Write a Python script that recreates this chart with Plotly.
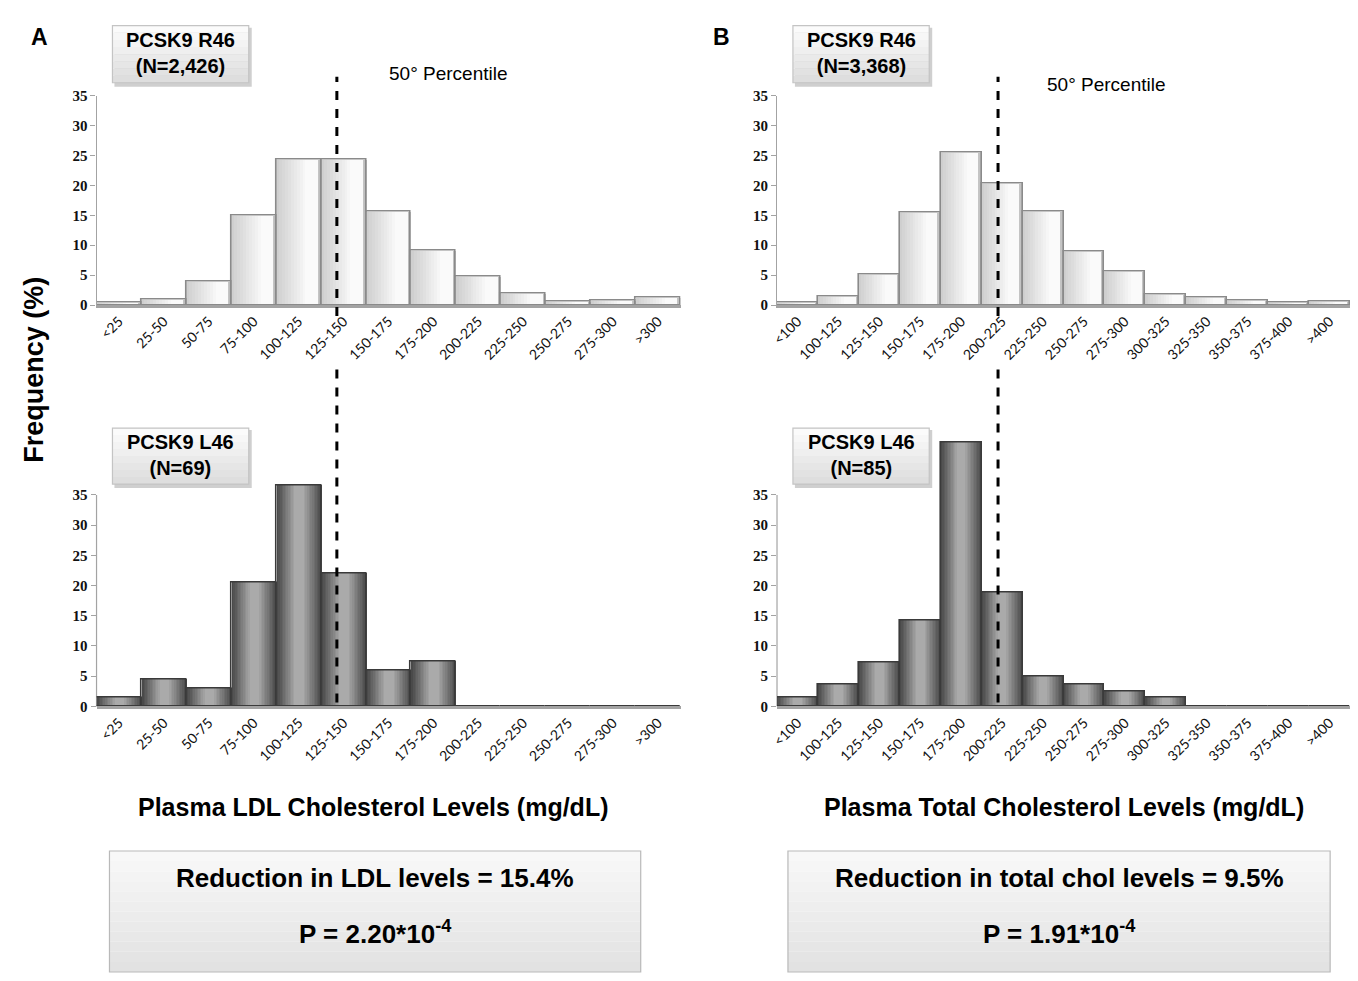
import plotly.graph_objects as go

# ---------------- data ----------------
ldl_bins = ["<25", "25-50", "50-75", "75-100", "100-125", "125-150", "150-175",
            "175-200", "200-225", "225-250", "250-275", "275-300", ">300"]
ldl_r46 = [0.4, 1.0, 4.0, 15.0, 24.3, 24.3, 15.7, 9.1, 4.8, 2.0, 0.6, 0.8, 1.3]
ldl_l46 = [1.5, 4.5, 3.0, 20.5, 36.5, 22.0, 6.0, 7.5, 0, 0, 0, 0, 0]

tc_bins = ["<100", "100-125", "125-150", "150-175", "175-200", "200-225", "225-250",
           "250-275", "275-300", "300-325", "325-350", "350-375", "375-400", ">400"]
tc_r46 = [0.4, 1.4, 5.1, 15.5, 25.4, 20.3, 15.6, 9.0, 5.6, 1.8, 1.2, 0.8, 0.5, 0.6]
tc_l46 = [1.4, 3.7, 7.3, 14.3, 43.7, 18.9, 4.9, 3.7, 2.5, 1.4, 0, 0, 0, 0]

# 50th percentile position (in bin-index units)
ldl_median_pos = 4.85
tc_median_pos = 4.90

y_ticks = [0, 5, 10, 15, 20, 25, 30, 35]

W, H = 1358, 981


def fx(px):
    return px / W


def fy(py):
    return 1 - py / H


def mix(c1, c2, t):
    a = [int(c1[i:i + 2], 16) for i in (1, 3, 5)]
    b = [int(c2[i:i + 2], 16) for i in (1, 3, 5)]
    return "#" + "".join("%02x" % round(a[k] + (b[k] - a[k]) * t) for k in range(3))


N_LAYERS = 12
# light (upper panels): darker on the left, lighter toward the right
light_layers = [(1.0, -0.5, "#c4c4c4")]
for i in range(1, N_LAYERS):
    t = i / (N_LAYERS - 1)
    w = 0.93 - 0.065 * (i - 1)
    light_layers.append((w, 0.42 - w, mix("#cbcbcb", "#fafafa", t)))
# dark (lower panels): darker edges, lighter centre
dark_layers = []
for i in range(N_LAYERS):
    t = i / (N_LAYERS - 1)
    w = 1.0 - 0.072 * i
    dark_layers.append((w, -w / 2, mix("#4a4a4a", "#aaaaaa", t)))

fig = go.Figure()


def add_bars(cats, vals, xa, ya, layers, edge):
    for i, (w, off, c) in enumerate(layers):
        fig.add_trace(go.Bar(
            x=cats, y=vals, xaxis=xa, yaxis=ya, width=w, offset=off,
            marker=dict(color=c, line=dict(color=c, width=0)),
            showlegend=False, hoverinfo="x+y" if i == 0 else "skip"))
    # outline on top of the layers
    fig.add_trace(go.Bar(
        x=cats, y=vals, xaxis=xa, yaxis=ya, width=1.0, offset=-0.5,
        marker=dict(color="rgba(0,0,0,0)", line=dict(color=edge, width=1.6)),
        showlegend=False, hoverinfo="skip"))


add_bars(ldl_bins, ldl_r46, "x", "y", light_layers, "#8a8a8a")
add_bars(ldl_bins, ldl_l46, "x2", "y2", dark_layers, "#3a3a3a")
add_bars(tc_bins, tc_r46, "x3", "y3", light_layers, "#8a8a8a")
add_bars(tc_bins, tc_l46, "x4", "y4", dark_layers, "#3a3a3a")

xA = [fx(90), fx(677)]
xB = [fx(774), fx(1350)]
y_top = [fy(302), fy(89)]
y_bot = [fy(710), fy(710 - 45 * (215 / 35))]

cat_font = dict(family="Lato, Liberation Sans, Arial", size=14, color="#111111")
ytick_font = dict(family="Liberation Serif, DejaVu Serif", size=15, color="#111111", weight="bold")


def xaxis_cfg(dom, cats, anchor):
    return dict(domain=dom, anchor=anchor, type="category", categoryorder="array",
                categoryarray=cats, range=[-0.5, len(cats) - 0.5],
                showline=True, linecolor="#a3a3a3", linewidth=2.5, ticks="",
                tickangle=-45, tickfont=cat_font, showgrid=False, zeroline=False, fixedrange=True)


def yaxis_cfg(dom, rng, anchor, showline):
    return dict(domain=dom, anchor=anchor, range=rng, tickvals=y_ticks,
                showline=showline, linecolor="#a3a3a3", linewidth=1.2,
                ticks="outside", ticklen=5, tickcolor="#a3a3a3", tickwidth=1.2,
                tickfont=ytick_font, showgrid=False, zeroline=False, fixedrange=True)


fig.update_layout(
    width=W, height=H, margin=dict(l=0, r=0, t=0, b=0),
    paper_bgcolor="white", plot_bgcolor="rgba(0,0,0,0)",
    barmode="overlay", bargap=0,
    xaxis=xaxis_cfg(xA, ldl_bins, "y"),
    yaxis=yaxis_cfg(y_top, [0, 35], "x", True),
    xaxis2=xaxis_cfg(xA, ldl_bins, "y2"),
    yaxis2=yaxis_cfg(y_bot, [0, 45], "x2", False),
    xaxis3=xaxis_cfg(xB, tc_bins, "y3"),
    yaxis3=yaxis_cfg(y_top, [0, 35], "x3", True),
    xaxis4=xaxis_cfg(xB, tc_bins, "y4"),
    yaxis4=yaxis_cfg(y_bot, [0, 45], "x4", False),
)

shapes = []
# y-axis lines for lower panels (only up to 35)
for xr, yr in (("x2 domain", "y2"), ("x4 domain", "y4")):
    shapes.append(dict(type="line", xref=xr, yref=yr, x0=0, x1=0, y0=0, y1=35,
                       line=dict(color="#a3a3a3", width=1.2), layer="below"))

# dashed 50th percentile lines
for xr, pos in (("x", ldl_median_pos), ("x3", tc_median_pos)):
    shapes.append(dict(type="line", xref=xr, yref="paper", x0=pos, x1=pos,
                       y0=fy(313), y1=fy(70), line=dict(color="black", width=3, dash="dash")))
for xr, pos in (("x2", ldl_median_pos), ("x4", tc_median_pos)):
    shapes.append(dict(type="line", xref=xr, yref="paper", x0=pos, x1=pos,
                       y0=fy(706), y1=fy(363), line=dict(color="black", width=3, dash="dash")))


def gradient_box(x0, x1, y0, y1, top_col, bot_col, border, bands=8):
    h = (y1 - y0) / bands
    for k in range(bands):
        shapes.append(dict(type="rect", xref="paper", yref="paper",
                           x0=fx(x0), x1=fx(x1), y0=fy(y0 + (k + 1) * h), y1=fy(y0 + k * h),
                           fillcolor=mix(top_col, bot_col, k / (bands - 1)),
                           line=dict(width=0), layer="below"))
    shapes.append(dict(type="rect", xref="paper", yref="paper",
                       x0=fx(x0), x1=fx(x1), y0=fy(y1), y1=fy(y0),
                       fillcolor="rgba(0,0,0,0)", line=dict(color=border, width=1.2), layer="below"))


# genotype label boxes
label_boxes = [
    (106, 243, 18, 76, "PCSK9 R46<br>(N=2,426)"),
    (790, 927, 18, 76, "PCSK9 R46<br>(N=3,368)"),
    (106, 243, 427, 484, "PCSK9 L46<br>(N=69)"),
    (790, 927, 427, 484, "PCSK9 L46<br>(N=85)"),
]
annotations = []
for x0, x1, y0, y1, txt in label_boxes:
    shapes.append(dict(type="rect", xref="paper", yref="paper",
                       x0=fx(x0 + 2), x1=fx(x1 + 3), y0=fy(y1 + 4), y1=fy(y0 + 2),
                       fillcolor="#cfcfcf", line=dict(width=0), layer="below"))
    gradient_box(x0, x1, y0, y1, "#fbfbfb", "#dedede", "#c4c4c4", bands=8)
    annotations.append(dict(xref="paper", yref="paper", x=fx((x0 + x1) / 2), y=fy((y0 + y1) / 2 - 1),
                            text="<b>" + txt + "</b>", showarrow=False, xanchor="center", yanchor="middle",
                            font=dict(family="Liberation Sans, Arial", size=20, color="black")))

# result boxes
result_boxes = [
    (103, 637, "Reduction in LDL levels = 15.4%", "P = 2.20*10<sup>-4</sup>"),
    (785, 1330, "Reduction in total chol levels = 9.5%", "P = 1.91*10<sup>-4</sup>"),
]
for x0, x1, l1, l2 in result_boxes:
    gradient_box(x0, x1, 857, 980, "#f8f8f8", "#e2e2e2", "#b9b9b9", bands=12)
    annotations.append(dict(xref="paper", yref="paper", x=fx((x0 + x1) / 2), y=fy(884),
                            text="<b>" + l1 + "</b>", showarrow=False, xanchor="center", yanchor="middle",
                            font=dict(family="Liberation Sans, Arial", size=26, color="black")))
    annotations.append(dict(xref="paper", yref="paper", x=fx((x0 + x1) / 2), y=fy(940),
                            text="<b>" + l2 + "</b>", showarrow=False, xanchor="center", yanchor="middle",
                            font=dict(family="Liberation Sans, Arial", size=26, color="black")))

# other texts
texts = [
    (fx(33), fy(29), "<b>A</b>", 23, 0),
    (fx(718), fy(29), "<b>B</b>", 23, 0),
    (fx(444), fy(67), "50° Percentile", 19, 0),
    (fx(1105), fy(78), "50° Percentile", 19, 0),
    (fx(368), fy(812), "<b>Plasma LDL Cholesterol Levels (mg/dL)</b>", 25, 0),
    (fx(1062), fy(812), "<b>Plasma Total Cholesterol Levels (mg/dL)</b>", 25, 0),
    (fx(27), fy(368), "<b>Frequency (%)</b>", 27, -90),
]
for x, y, t, s, ang in texts:
    annotations.append(dict(xref="paper", yref="paper", x=x, y=y, text=t, showarrow=False,
                            xanchor="center", yanchor="middle", textangle=ang,
                            font=dict(family="Liberation Sans, Arial", size=s, color="black")))

fig.update_layout(shapes=shapes, annotations=annotations)

fig.write_html("out.html", config={"displayModeBar": False},
               post_script="document.body.style.margin='0px';")
